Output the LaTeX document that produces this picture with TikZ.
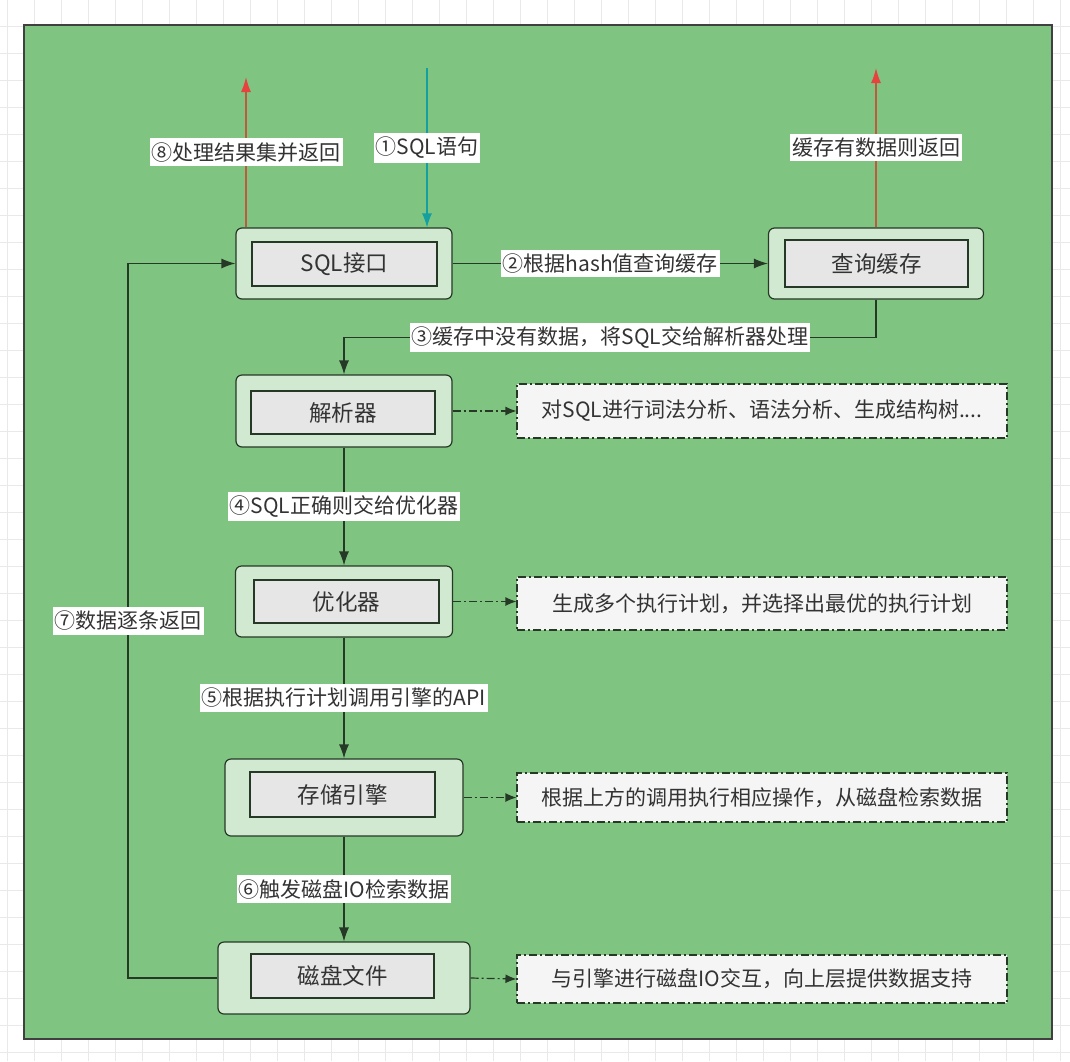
\documentclass[tikz,border=0pt]{standalone}
\usepackage{fontspec}
\setmainfont{Noto Sans CJK SC}
\usetikzlibrary{arrows.meta}

\definecolor{panelgreen}{HTML}{80C482}
\definecolor{boxgreen}{HTML}{D2E9D1}
\definecolor{boxgrey}{HTML}{E6E6E6}
\definecolor{notegrey}{HTML}{F5F5F5}
\definecolor{edgedark}{HTML}{263826}
\definecolor{textgrey}{HTML}{333333}
\definecolor{sqlteal}{HTML}{14A0A0}
\definecolor{retred}{HTML}{BE5A3E}
\definecolor{tipred}{HTML}{E8423E}
\definecolor{gridgrey}{HTML}{E9E9E9}

\begin{document}
\begin{tikzpicture}[
  flowouter/.style={draw=edgedark, rounded corners=6pt, fill=boxgreen, line width=1.2pt, inner sep=0pt},
  flowinner/.style={draw=edgedark, fill=boxgrey, line width=1.2pt, inner sep=0pt, text=textgrey,
                    font=\fontsize{22.5}{27}\selectfont},
  notebox/.style={draw=edgedark, dash pattern=on 8pt off 3pt on 2pt off 3pt, fill=notegrey,
                  line width=1.1pt, text=textgrey, minimum width=490pt, inner sep=0pt,
                  font=\fontsize{21}{25}\selectfont},
  flowedge/.style={draw=edgedark, line width=1.2pt, -{Latex[length=14pt,width=10pt]}},
  returnedge/.style={draw=retred, line width=1.4pt, -{Latex[length=15pt,width=10pt,color=tipred]}},
  noteedge/.style={draw=edgedark, line width=1.2pt, dash pattern=on 8pt off 3pt on 2pt off 3pt,
                   -{Latex[length=11pt,width=9pt]}},
  flowlabel/.style={fill=white, text=textgrey, inner xsep=2pt, inner ysep=4pt,
                    font=\fontsize{21}{25}\selectfont},
]
  \useasboundingbox (0pt,0pt) rectangle (1070pt,-1061pt);
  \fill[white] (0pt,0pt) rectangle (1070pt,-1061pt);
  \foreach \gx in {7,34,...,1070} \draw[gridgrey, line width=0.6pt] (\gx*1pt,0pt) -- (\gx*1pt,-1061pt);
  \foreach \gy in {26,53,...,1061} \draw[gridgrey, line width=0.6pt] (0pt,-\gy*1pt) -- (1070pt,-\gy*1pt);
  \draw[draw=black!75, fill=panelgreen, line width=1.2pt] (24pt,-25pt) rectangle (1052pt,-1039pt);

  \node[flowouter, minimum width=216pt, minimum height=71pt] (nsqlapi) at (344pt,-263.5pt) {};
  \node[flowinner, minimum width=185pt, minimum height=44pt] (nsqlapitxt) at (344.5pt,-264pt) {SQL接口};
  \node[flowouter, minimum width=215pt, minimum height=71pt] (nqcache) at (876pt,-263.5pt) {};
  \node[flowinner, minimum width=183pt, minimum height=47pt] (nqcachetxt) at (876.5pt,-263.5pt) {查询缓存};
  \node[flowouter, minimum width=216pt, minimum height=72pt] (nparser) at (344pt,-411pt) {};
  \node[flowinner, minimum width=184pt, minimum height=43pt] (nparsertxt) at (343pt,-412.5pt) {解析器};
  \node[flowouter, minimum width=217pt, minimum height=71pt] (noptim) at (344pt,-601.5pt) {};
  \node[flowinner, minimum width=185pt, minimum height=43pt] (noptimtxt) at (346.5pt,-601.5pt) {优化器};
  \node[flowouter, minimum width=238pt, minimum height=77pt] (nengine) at (344pt,-797.5pt) {};
  \node[flowinner, minimum width=185pt, minimum height=45pt] (nenginetxt) at (342.5pt,-794.5pt) {存储引擎};
  \node[flowouter, minimum width=252pt, minimum height=72pt] (ndisk) at (344pt,-978pt) {};
  \node[flowinner, minimum width=183pt, minimum height=44pt] (ndisktxt) at (342.5pt,-976pt) {磁盘文件};

  \node[notebox, minimum height=54pt] (nparsernote) at (762pt,-411pt) {对SQL进行词法分析、语法分析、生成结构树....};
  \node[notebox, minimum height=53pt] (noptimnote) at (762pt,-603.5pt) {生成多个执行计划，并选择出最优的执行计划};
  \node[notebox, minimum height=49pt] (nenginenote) at (762pt,-797.5pt) {根据上方的调用执行相应操作，从磁盘检索数据};
  \node[notebox, minimum height=48pt] (ndisknote) at (762pt,-979pt) {与引擎进行磁盘IO交互，向上层提供数据支持};

  \coordinate (sqlin) at (427pt,-68pt);
  \draw[flowedge, draw=sqlteal] (sqlin) -- (sqlin |- nsqlapi.north) node[flowlabel, midway]{①SQL语句};
  \coordinate (resultout) at (246pt,-77pt);
  \draw[returnedge] (nsqlapi.north -| resultout) -- (resultout) node[flowlabel, midway]{⑧处理结果集并返回};
  \coordinate (cacheout) at (876pt,-68pt);
  \draw[returnedge] (nqcache.north) -- (cacheout) node[flowlabel, midway]{缓存有数据则返回};
  \draw[flowedge] (nsqlapi.east) -- (nqcache.west) node[flowlabel, midway]{②根据hash值查询缓存};
  \coordinate (nocache) at (876pt,-337.5pt);
  \draw[flowedge] (nqcache.south) -- (nocache) -| (nparser.north) node[flowlabel, pos=0.25]{③缓存中没有数据，将SQL交给解析器处理};
  \draw[flowedge] (nparser.south) -- (noptim.north) node[flowlabel, midway]{④SQL正确则交给优化器};
  \draw[flowedge] (noptim.south) -- (nengine.north) node[flowlabel, midway]{⑤根据执行计划调用引擎的API};
  \draw[flowedge] (nengine.south) -- (ndisk.north) node[flowlabel, midway]{⑥触发磁盘IO检索数据};
  \coordinate (rowback) at (128pt,-978pt);
  \draw[flowedge] (ndisk.west) -- (rowback) |- (nsqlapi.west) node[flowlabel, pos=0.25]{⑦数据逐条返回};

  \draw[noteedge] (nparser.east) -- (nparsernote.west);
  \draw[noteedge] (noptim.east) -- (noptim.east -| noptimnote.west);
  \draw[noteedge] (nengine.east) -- (nenginenote.west);
  \draw[noteedge] (ndisk.east) -- (ndisknote.west);
\end{tikzpicture}
\end{document}
